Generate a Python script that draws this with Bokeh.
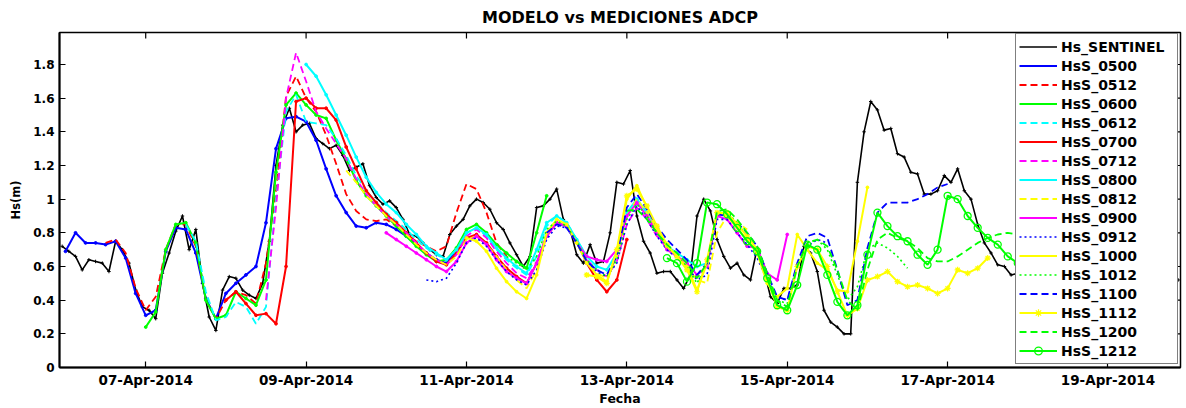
import math
import pandas as pd
from bokeh.plotting import figure
from bokeh.models import Range1d, FixedTicker, DatetimeTickFormatter, Legend, LegendItem
from bokeh.embed import file_html
from bokeh.resources import INLINE

FONT = "DejaVu Sans"

# ---------------- data ----------------
title_text = "MODELO vs MEDICIONES ADCP"
x_label = "Fecha"
y_label = "Hs(m)"
x_tick_dates = ["2014-04-07", "2014-04-09", "2014-04-11", "2014-04-13",
                "2014-04-15", "2014-04-17", "2014-04-19"]
y_ticks = [0, 0.2, 0.4, 0.6, 0.8, 1, 1.2, 1.4, 1.6, 1.8]
y_tick_labels = ["0", "0.2", "0.4", "0.6", "0.8", "1", "1.2", "1.4", "1.6", "1.8"]

sentinel_label = "Hs_SENTINEL"
sentinel_start = "2014-04-05 23:00"   # 2-hourly samples
sentinel = [0.72, 0.69, 0.66, 0.58, 0.64, 0.63, 0.62, 0.57, 0.75, 0.70,
            0.62, 0.46, 0.36, 0.34, 0.29, 0.56, 0.68, 0.81, 0.90, 0.70,
            0.82, 0.50, 0.30, 0.22, 0.46, 0.54, 0.53, 0.46, 0.43, 0.41,
            0.50, 0.75, 1.20, 1.44, 1.54, 1.40, 1.44, 1.45, 1.36, 1.33,
            1.30, 1.32, 1.26, 1.17, 1.19, 1.21, 1.08, 1.01, 0.97, 0.99,
            0.95, 0.88, 0.79, 0.78, 0.74, 0.70, 0.67, 0.66, 0.79, 0.84,
            0.88, 0.96, 1.00, 0.98, 0.94, 0.86, 0.82, 0.74, 0.67, 0.60,
            0.66, 0.95, 0.96, 1.00, 1.06, 0.88, 0.82, 0.67, 0.62, 0.73,
            0.62, 0.63, 0.80, 1.10, 1.09, 1.17, 0.90, 0.75, 0.68, 0.56,
            0.57, 0.57, 0.52, 0.47, 0.55, 0.90, 1.00, 0.93, 0.76, 0.66,
            0.59, 0.62, 0.55, 0.52, 0.71, 0.58, 0.42, 0.38, 0.47, 0.47,
            0.49, 0.72, 0.68, 0.57, 0.34, 0.27, 0.24, 0.20, 0.20, 1.10,
            1.40, 1.58, 1.53, 1.41, 1.42, 1.27, 1.25, 1.16, 1.15, 1.03,
            1.03, 1.05, 1.14, 1.10, 1.18, 1.05, 1.00, 0.85, 0.74, 0.68,
            0.61, 0.60, 0.55, 0.56, 0.58, 0.55, 0.57, 0.60, 0.58, 0.62,
            0.60, 0.57, 0.55, 0.58, 0.56, 0.53, 0.55, 0.57, 0.54, 0.52,
            0.55, 0.53, 0.52, 0.54, 0.52, 0.53, 0.52, 0.52]

run_labels = ["HsS_0500", "HsS_0512", "HsS_0600", "HsS_0612", "HsS_0700", "HsS_0712",
              "HsS_0800", "HsS_0812", "HsS_0900", "HsS_0912", "HsS_1000", "HsS_1012",
              "HsS_1100", "HsS_1112", "HsS_1200", "HsS_1212"]
run_starts = ["2014-04-06 00:00", "2014-04-06 12:00", "2014-04-07 00:00", "2014-04-07 12:00",
              "2014-04-08 00:00", "2014-04-08 12:00", "2014-04-09 00:00", "2014-04-09 12:00",
              "2014-04-10 00:00", "2014-04-10 12:00", "2014-04-11 00:00", "2014-04-11 12:00",
              "2014-04-12 00:00", "2014-04-12 12:00", "2014-04-13 00:00", "2014-04-13 12:00"]
# 3-hourly samples from each run start
hss_0500 = [0.69, 0.80, 0.74, 0.74, 0.73, 0.75, 0.65, 0.44, 0.31, 0.34, 0.69, 0.83, 0.82, 0.68,
            0.41, 0.29, 0.44, 0.50, 0.55, 0.60, 0.86, 1.30, 1.48, 1.49, 1.46, 1.35, 1.18, 1.02,
            0.92, 0.84, 0.83, 0.86, 0.85, 0.82, 0.78, 0.73, 0.68, 0.64, 0.62, 0.70, 0.80]
hss_0512 = [0.74, 0.76, 0.68, 0.47, 0.34, 0.42, 0.70, 0.85, 0.85, 0.72, 0.40, 0.29, 0.40, 0.45,
            0.43, 0.38, 0.62, 1.05, 1.61, 1.73, 1.60, 1.52, 1.38, 1.21, 1.03, 0.93, 0.88, 0.87,
            0.88, 0.84, 0.79, 0.75, 0.72, 0.69, 0.72, 0.92, 1.09, 1.06, 0.92, 0.74, 0.66]
hss_0600 = [0.24, 0.33, 0.70, 0.85, 0.86, 0.74, 0.40, 0.29, 0.31, 0.45, 0.41, 0.37, 0.52, 1.16,
            1.56, 1.63, 1.56, 1.50, 1.48, 1.35, 1.24, 1.11, 1.02, 0.96, 0.90, 0.84, 0.78, 0.72,
            0.67, 0.63, 0.64, 0.71, 0.82, 0.85, 0.80, 0.73, 0.68, 0.63, 0.59, 0.80, 1.02]
hss_0612 = [0.85, 0.75, 0.45, 0.28, 0.30, 0.39, 0.36, 0.26, 0.36, 1.00, 1.52, 1.62, 1.46, 1.45,
            1.44, 1.36, 1.26, 1.14, 1.05, 0.98, 0.92, 0.87, 0.82, 0.76, 0.71, 0.67, 0.64, 0.70,
            0.80, 0.83, 0.78, 0.70, 0.64, 0.59, 0.55, 0.66, 0.84, 0.90, 0.86, 0.76, 0.66]
hss_0700 = [0.40, 0.45, 0.38, 0.31, 0.32, 0.26, 0.60, 1.58, 1.60, 1.54, 1.54, 1.47, 1.31, 1.18,
            1.05, 0.98, 0.91, 0.86, 0.80, 0.74, 0.68, 0.63, 0.61, 0.68, 0.77, 0.79, 0.74, 0.66,
            0.59, 0.54, 0.50, 0.62, 0.78, 0.86, 0.84, 0.75, 0.62, 0.52, 0.45, 0.52, 0.76]
hss_0712 = [0.40, 0.95, 1.60, 1.87, 1.70, 1.52, 1.42, 1.33, 1.24, 1.12, 1.03, 0.96, 0.90, 0.85,
            0.80, 0.74, 0.68, 0.64, 0.61, 0.67, 0.78, 0.82, 0.77, 0.69, 0.62, 0.56, 0.53, 0.62,
            0.79, 0.86, 0.84, 0.74, 0.64, 0.58, 0.54, 0.63, 0.85, 0.95, 0.88, 0.78, 0.72]
hss_0800 = [1.80, 1.73, 1.62, 1.50, 1.38, 1.25, 1.13, 1.04, 0.97, 0.92, 0.85, 0.79, 0.72, 0.68,
            0.64, 0.70, 0.80, 0.83, 0.79, 0.71, 0.65, 0.60, 0.56, 0.70, 0.86, 0.90, 0.86, 0.76,
            0.66, 0.60, 0.58, 0.68, 0.92, 1.00, 0.92, 0.83, 0.72, 0.68, 0.64, 0.60, 0.62]
hss_0812 = [1.17, 1.10, 1.02, 0.96, 0.90, 0.85, 0.79, 0.73, 0.68, 0.64, 0.61, 0.66, 0.76, 0.78,
            0.73, 0.66, 0.58, 0.52, 0.47, 0.58, 0.78, 0.86, 0.84, 0.74, 0.62, 0.56, 0.53, 0.66,
            0.90, 1.00, 0.92, 0.80, 0.72, 0.66, 0.60, 0.52, 0.50, 0.80, 0.90, 0.86, 0.82]
hss_0900 = [0.80, 0.76, 0.72, 0.68, 0.64, 0.60, 0.57, 0.63, 0.74, 0.78, 0.73, 0.64, 0.57, 0.53,
            0.50, 0.62, 0.78, 0.86, 0.84, 0.74, 0.66, 0.64, 0.63, 0.70, 0.90, 0.98, 0.90, 0.80,
            0.70, 0.66, 0.62, 0.55, 0.60, 0.90, 0.88, 0.80, 0.72, 0.71, 0.56, 0.52, 0.79]
hss_0912 = [0.52, 0.51, 0.53, 0.62, 0.74, 0.77, 0.72, 0.64, 0.57, 0.52, 0.49, 0.58, 0.76, 0.84,
            0.83, 0.74, 0.63, 0.57, 0.54, 0.62, 0.85, 0.96, 0.88, 0.78, 0.70, 0.65, 0.60, 0.52,
            0.55, 0.88, 0.88, 0.80, 0.73, 0.65, 0.52, 0.42, 0.40, 0.60, 0.72, 0.76, 0.74]
hss_1000 = [0.77, 0.75, 0.69, 0.59, 0.51, 0.45, 0.41, 0.55, 0.80, 0.88, 0.85, 0.74, 0.62, 0.55,
            0.51, 0.68, 1.00, 1.08, 0.95, 0.82, 0.72, 0.66, 0.60, 0.46, 0.62, 0.92, 0.90, 0.83,
            0.76, 0.68, 0.50, 0.42, 0.47, 0.79, 0.70, 0.62, 0.58, 0.46, 0.45, 0.75, 1.07]
hss_1012 = [0.66, 0.62, 0.58, 0.66, 0.82, 0.87, 0.84, 0.75, 0.64, 0.58, 0.54, 0.64, 0.88, 0.97,
            0.90, 0.80, 0.72, 0.66, 0.60, 0.50, 0.62, 0.92, 0.92, 0.86, 0.78, 0.70, 0.55, 0.40,
            0.38, 0.62, 0.74, 0.76, 0.70, 0.55, 0.40, 0.48, 0.70, 0.74, 0.71, 0.66, 0.59]
hss_1100 = [0.80, 0.85, 0.83, 0.74, 0.63, 0.58, 0.55, 0.66, 0.95, 1.03, 0.94, 0.84, 0.76, 0.70,
            0.64, 0.55, 0.62, 0.91, 0.90, 0.86, 0.80, 0.72, 0.56, 0.42, 0.40, 0.62, 0.78, 0.80,
            0.77, 0.58, 0.37, 0.40, 0.71, 0.92, 0.98, 0.98, 0.98, 1.00, 1.03, 1.07, 1.09]
hss_1112 = [0.55, 0.54, 0.50, 0.70, 1.02, 1.06, 0.96, 0.84, 0.73, 0.66, 0.58, 0.45, 0.64, 0.92,
            0.92, 0.85, 0.78, 0.70, 0.52, 0.36, 0.34, 0.60, 0.72, 0.70, 0.60, 0.45, 0.31, 0.35,
            0.52, 0.54, 0.57, 0.51, 0.48, 0.49, 0.47, 0.44, 0.47, 0.58, 0.56, 0.59, 0.65]
hss_1200 = [0.93, 0.94, 0.88, 0.80, 0.73, 0.68, 0.62, 0.53, 0.62, 0.93, 0.94, 0.88, 0.80, 0.72,
            0.56, 0.40, 0.36, 0.60, 0.74, 0.76, 0.72, 0.58, 0.40, 0.34, 0.58, 0.76, 0.80, 0.77,
            0.75, 0.71, 0.65, 0.63, 0.63, 0.66, 0.70, 0.74, 0.77, 0.79, 0.80, 0.79, 0.77]
hss_1212 = [0.65, 0.62, 0.51, 0.62, 0.98, 0.97, 0.91, 0.83, 0.75, 0.69, 0.53, 0.37, 0.34, 0.49,
            0.73, 0.70, 0.55, 0.39, 0.31, 0.37, 0.67, 0.92, 0.84, 0.78, 0.75, 0.67, 0.61, 0.70,
            1.02, 1.00, 0.90, 0.83, 0.77, 0.73, 0.66, 0.62, 0.60, 0.58, 0.56, 0.55, 0.53]
run_values = [hss_0500, hss_0512, hss_0600, hss_0612, hss_0700, hss_0712, hss_0800, hss_0812,
              hss_0900, hss_0912, hss_1000, hss_1012, hss_1100, hss_1112, hss_1200, hss_1212]

# ---------------- styles ----------------
BLUE, RED, GREEN, CYAN, MAG, YEL = "#0000ff", "#ff0000", "#00ff00", "#00ffff", "#ff00ff", "#ffff00"
DASH, DOT = "7 4", "2 3"
run_styles = [  # color, dash, marker
    (BLUE, "solid", "dot"), (RED, DASH, None), (GREEN, "solid", "dot"), (CYAN, DASH, None),
    (RED, "solid", "dot"), (MAG, DASH, None), (CYAN, "solid", "dot"), (YEL, DASH, None),
    (MAG, "solid", "dot"), (BLUE, DOT, None), (YEL, "solid", "dot"), (GREEN, DOT, None),
    (BLUE, DASH, None), (YEL, "solid", "asterisk"), (GREEN, DASH, None), (GREEN, "solid", "ring"),
]

X_START = pd.Timestamp("2014-04-05 22:12")
X_END = pd.Timestamp("2014-04-19 21:42")
Y_TOP = 1.99

p = figure(width=1186, height=408, x_axis_type="datetime", output_backend="svg",
           toolbar_location=None,
           x_range=Range1d(X_START, X_END), y_range=Range1d(0, Y_TOP),
           min_border_left=59, min_border_right=6, min_border_top=31, min_border_bottom=40)
p.background_fill_color = "white"
p.border_fill_color = "white"
p.outline_line_color = "black"
p.outline_line_width = 1.5
p.xgrid.visible = False
p.ygrid.visible = False

p.title.text = title_text
p.title.align = "center"
p.title.text_font = FONT
p.title.text_font_size = "16px"
p.title.text_font_style = "bold"
p.title.text_color = "black"
p.title.standoff = 11

xt = [pd.Timestamp(d).value // 10**6 for d in x_tick_dates]
fmt = DatetimeTickFormatter(days="%d-%b-%Y", months="%d-%b-%Y", hours="%d-%b-%Y",
                            years="%d-%b-%Y")

def style_axis(ax, fs):
    ax.axis_line_width = 2
    ax.axis_line_color = "black"
    ax.major_tick_in = 6
    ax.major_tick_out = 0
    ax.minor_tick_in = 0
    ax.minor_tick_out = 0
    ax.major_tick_line_width = 1.2
    ax.major_label_text_font = FONT
    ax.major_label_text_font_style = "bold"
    ax.major_label_text_font_size = fs
    ax.major_label_text_color = "black"
    ax.axis_label_text_color = "black"

xa = p.xaxis[0]
xa.ticker = FixedTicker(ticks=xt)
xa.formatter = fmt
style_axis(xa, "13.5px")
xa.major_label_standoff = 4
xa.axis_label = x_label
xa.axis_label_text_font = FONT
xa.axis_label_text_font_style = "bold"
xa.axis_label_text_font_size = "12.5px"
xa.axis_label_standoff = 0

ya = p.yaxis[0]
ya.ticker = FixedTicker(ticks=y_ticks)
ya.major_label_overrides = {t: l for t, l in zip(y_ticks, y_tick_labels)}
style_axis(ya, "12px")
ya.major_label_standoff = 5
ya.axis_label = y_label
ya.axis_label_text_font = FONT
ya.axis_label_text_font_style = "bold"
ya.axis_label_text_font_size = "11.5px"
ya.axis_label_standoff = 7

# box ticks on the top and right edges (inward, no labels)
p.ray(x=xt, y=[Y_TOP] * len(xt), length=6, length_units="screen", angle=-math.pi / 2,
      line_color="black", line_width=1.2)
p.ray(x=[X_END] * len(y_ticks), y=y_ticks, length=6, length_units="screen", angle=math.pi,
      line_color="black", line_width=1.2)

# ---------------- glyphs ----------------
items = []
t_sent = pd.date_range(sentinel_start, periods=len(sentinel), freq="2h")
l0 = p.line(t_sent, sentinel, line_color="black", line_width=1.6)
p.scatter(t_sent, sentinel, marker="cross", size=3.5, line_color="black", line_width=1)
items.append(LegendItem(label=sentinel_label, renderers=[l0]))

for lab, start, vals, (col, dash, mk) in zip(run_labels, run_starts, run_values, run_styles):
    t = pd.date_range(start, periods=len(vals), freq="3h")
    lw = 1.6 if dash == DOT else (2.0 if dash == "solid" else 1.8)
    r = [p.line(t, vals, line_color=col, line_width=lw, line_dash=dash)]
    if mk == "dot":
        p.scatter(t, vals, marker="circle", size=2.8, line_color=col, fill_color=col)
    elif mk == "asterisk":
        r.append(p.scatter(t, vals, marker="asterisk", size=6, line_color=col, line_width=1.2))
    elif mk == "ring":
        r.append(p.scatter(t, vals, marker="circle", size=7, line_color=col, fill_color=None,
                           line_width=1.3))
    items.append(LegendItem(label=lab, renderers=r))

legend = Legend(items=items, location=(956, 3), padding=3, spacing=0,
                glyph_width=38, glyph_height=19, label_height=19, label_width=113,
                label_standoff=4, label_text_font=FONT, label_text_font_style="bold",
                label_text_font_size="14px", label_text_color="black",
                border_line_color="black", border_line_width=1,
                background_fill_color="white", background_fill_alpha=1.0, margin=0)
p.add_layout(legend)

open("out.html", "w").write(file_html(p, INLINE))
